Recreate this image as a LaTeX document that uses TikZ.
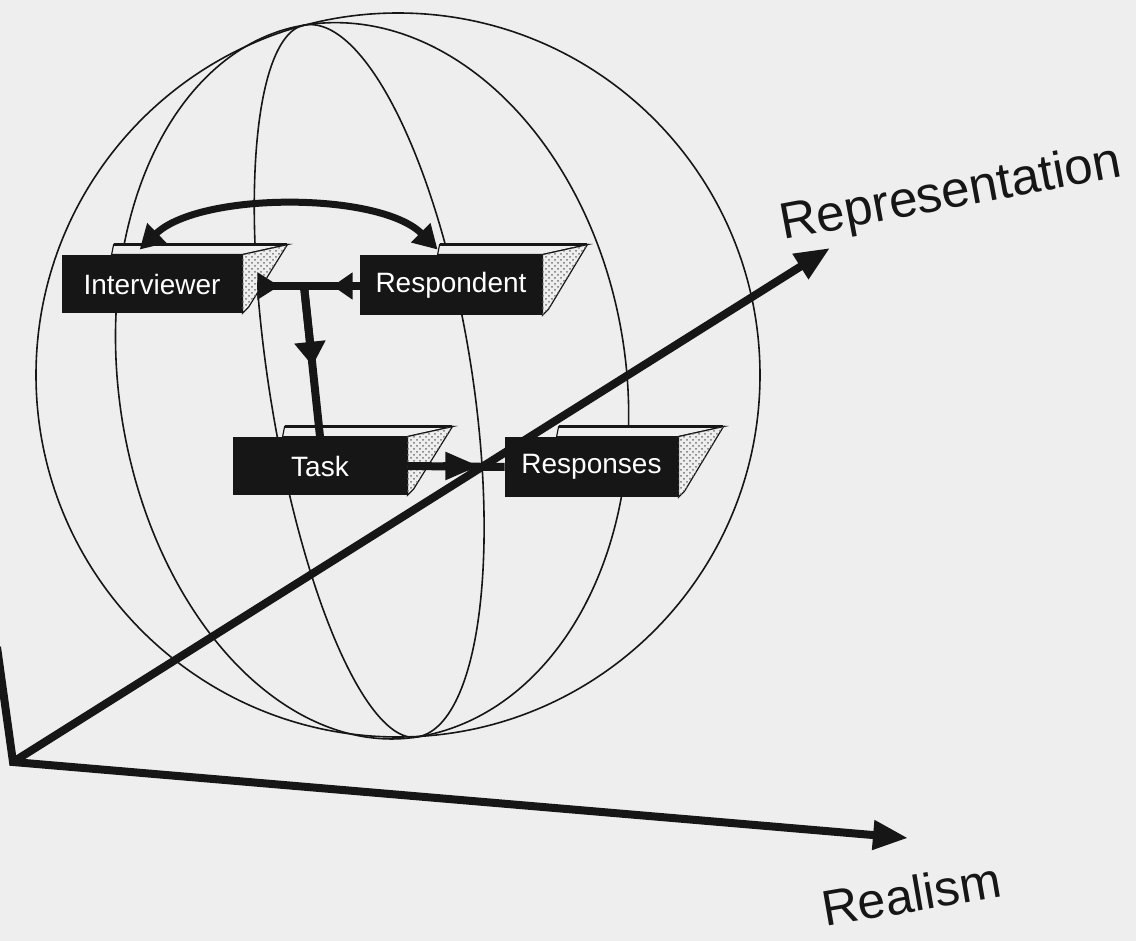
\documentclass[tikz,border=0pt]{standalone}
\usepackage{fontspec}
\setmainfont{Liberation Sans}
\usetikzlibrary{arrows.meta,calc,patterns}
\definecolor{bgc}{RGB}{238,238,238}
\definecolor{ink}{RGB}{22,22,22}
\newcommand{\slabfaces}[2]{%
  \filldraw[topface] ($(#1.north west)+(#2,0)$) -- ($(#1.north west)+(#2+2,-10)$) -- ($(#1.north east)+(45,-10)$) -- (#1.north east) -- cycle;
  \draw[ink,line width=1.3pt] ($(#1.north west)+(#2+2,-10)$) -- ($(#1.north east)+(45,-10)$);
  \filldraw[sideface] (#1.north east) -- ($(#1.north east)+(45,-10)$) -- ($(#1.south east)+(6,-6)$) -- (#1.south east) -- cycle;
}
\begin{document}
\begin{tikzpicture}[x=0.5pt,y=-0.5pt,
  sph/.style={draw=ink,line width=0.8pt},
  slabbox/.style={fill=ink,text=white,inner sep=0pt,minimum height=29pt,font=\fontsize{14}{16}\selectfont},
  topface/.style={fill=bgc,draw=ink,line width=0.6pt},
  sideface/.style={fill=bgc,draw=ink,line width=0.6pt,postaction={pattern=crosshatch dots,pattern color=ink!60}},
  conn/.style={draw=ink,line width=4pt},
  axisline/.style={draw=ink,line width=4pt,line join=miter},
  axlabel/.style={text=ink,inner sep=0pt,anchor=base west}
]
\fill[bgc] (0,0) rectangle (1136,941);
\useasboundingbox (0,0) rectangle (1136,941);
\clip (0,0) rectangle (1136,941);

% sphere
\draw[sph] (398,375) circle[radius=181pt];
\foreach \b in {265,111,-92,-242}
  \draw[sph] plot[domain=0:180,samples=120,smooth]
    ({361+56*cos(\x)+(\b)*0.9878*sin(\x)},{381+356*cos(\x)-(\b)*0.1554*sin(\x)});

% boxes
\node[slabbox,minimum width=90pt] (iv) at (152,284) {Interviewer};
\node[slabbox,minimum width=91pt,minimum height=30pt] (rp) at (451,285) {Respondent};
\node[slabbox,minimum width=87pt] (tk) at (320,466) {Task};
\node[slabbox,minimum width=86.5pt,minimum height=30pt] (rs) at (591.5,467) {Responses};
\slabfaces{iv}{50}
\slabfaces{rp}{78}
\slabfaces{tk}{50}
\slabfaces{rs}{52}

% connectors
\coordinate (J) at (304,286);
\coordinate (ivS) at ($(iv.east)+(15,2)$);
\coordinate (rpS) at ($(rp.west)+(0,1)$);
\draw[conn] (ivS) -- (J);
\draw[conn,-{Triangle[length=11pt,width=13pt]}] (ivS) -- ($(ivS)+(22,0)$);
\draw[conn] (rpS) -- (J);
\draw[conn,-{Triangle[length=10pt,width=13pt]}] ($(rpS)+(-7,0)$) -- ($(rpS)+(-27,0)$);
\draw[conn] (J) -- (tk.north);
\draw[conn,-{Triangle[length=12pt,width=15pt]}] (J) -- ($(J)!0.53!(tk.north)$);
\draw[conn] (tk.east) -- (rs.west);
\draw[conn,-{Triangle[length=17pt,width=13pt]}] ($(tk.east)+(36,0)$) -- ($(tk.east)+(72,0)$);
\draw[conn,line width=3.5pt,{Triangle[length=12pt,width=13pt]}-{Triangle[length=12pt,width=13pt]}]
  ($(iv.north west)+(78,-5)$) .. controls +(60,-58) and +(-58,-58) .. ($(rp.north west)+(78,-5)$);

% axes
\coordinate (O) at (13,762);
\coordinate (repT) at (830,248);
\coordinate (realT) at (908,838);
\coordinate (vT) at (-3,647);
\draw[axisline,-{Triangle[length=17.5pt,width=14pt]}] (vT) -- (O) -- (realT);
\draw[axisline,-{Triangle[length=17.5pt,width=14pt]}] (O) -- (repT);

\node[axlabel,rotate=10.6,font=\fontsize{25.5}{30}\selectfont] (replab) at (783,240) {Representation};
\node[axlabel,rotate=9.8,font=\fontsize{25}{30}\selectfont] (reallab) at (825,927) {Realism};
\end{tikzpicture}
\end{document}
